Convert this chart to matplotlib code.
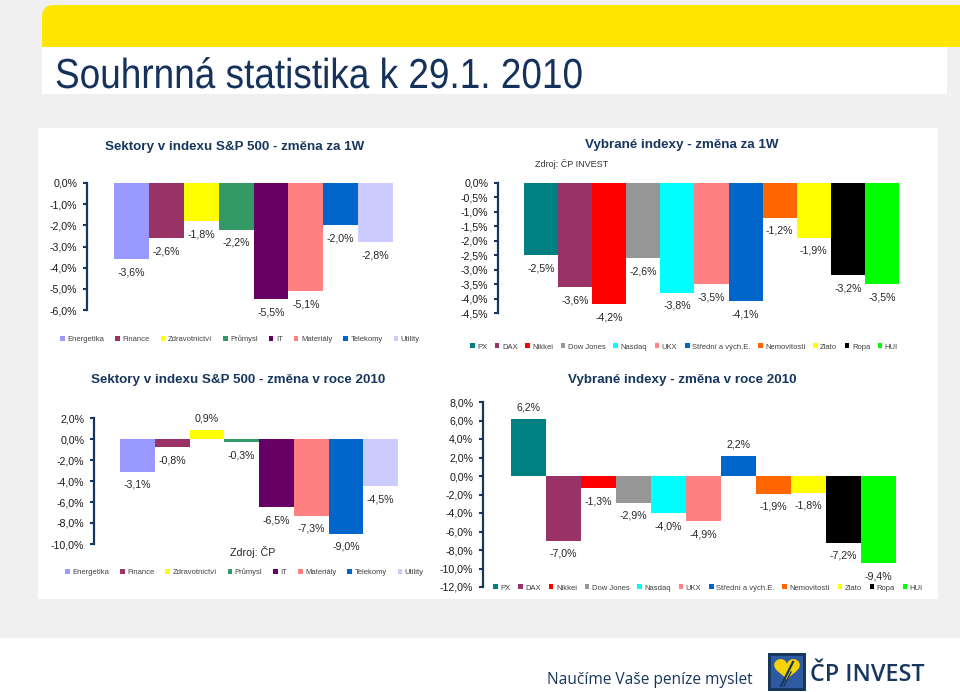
import numpy as np
import matplotlib.pyplot as plt
from matplotlib.patches import Rectangle, FancyBboxPatch, PathPatch, Polygon
from matplotlib.textpath import TextPath
from matplotlib.font_manager import FontProperties, findfont
from matplotlib.transforms import Affine2D
from matplotlib.ticker import FuncFormatter

plt.rcParams['font.family'] = ['Liberation Sans', 'DejaVu Sans']

# --- data ---
sektory = ['Energetika', 'Finance', 'Zdravotnictví', 'Průmysl', 'IT',
           'Materiály', 'Telekomy', 'Utility']
sektory_1w = [-3.6, -2.6, -1.8, -2.2, -5.5, -5.1, -2.0, -2.8]
sektory_2010 = [-3.1, -0.8, 0.9, -0.3, -6.5, -7.3, -9.0, -4.5]
sektory_barvy = ['#9999ff', '#993366', '#ffff00', '#339966', '#660066',
                 '#ff8080', '#0066cc', '#ccccff']

indexy = ['PX', 'DAX', 'Nikkei', 'Dow Jones', 'Nasdaq', 'UKX',
          'Střední a vých.E.', 'Nemovitosti', 'Zlato', 'Ropa', 'HUI']
indexy_1w = [-2.5, -3.6, -4.2, -2.6, -3.8, -3.5, -4.1, -1.2, -1.9, -3.2, -3.5]
indexy_2010 = [6.2, -7.0, -1.3, -2.9, -4.0, -4.9, 2.2, -1.9, -1.8, -7.2, -9.4]
indexy_barvy = ['#008080', '#993366', '#ff0000', '#969696', '#00ffff',
                '#ff8080', '#0066cc', '#ff6600', '#ffff00', '#000000', '#00ff00']

NAVY = '#17375e'
W, H = 960, 692

fig = plt.figure(figsize=(W / 100, H / 100), dpi=100)
fig.patch.set_facecolor('#f0f0f0')

# pozadi slajdu v pixelech
bg = fig.add_axes([0, 0, 1, 1])
bg.set_xlim(0, W)
bg.set_ylim(H, 0)
bg.axis('off')
bg.add_patch(FancyBboxPatch((42, 5), 940, 42, boxstyle='round,pad=0,rounding_size=12',
                            fc='#ffe600', ec='none'))
bg.add_patch(Rectangle((42, 30), 30, 17, fc='#ffe600', ec='none'))
bg.add_patch(Rectangle((42, 47), 905, 47, fc='white', ec='none'))
bg.add_patch(Rectangle((38, 128), 900, 471, fc='white', ec='none'))
bg.add_patch(Rectangle((0, 638), W, 54, fc='white', ec='none'))

# hlavni nadpis - zuzene pismo
try:
    findfont(FontProperties(family='Liberation Sans Narrow'), fallback_to_default=False)
    fp_title, sx = FontProperties(family='Liberation Sans Narrow'), 1.0
except Exception:
    fp_title, sx = FontProperties(family='Liberation Sans'), 0.88
tp = TextPath((0, 0), 'Souhrnná statistika k 29.1. 2010', size=42, prop=fp_title)
bg.add_patch(PathPatch(tp, transform=Affine2D().scale(sx, -1).translate(55, 88) + bg.transData,
                       fc='#14325c', ec='none'))

# paticka
bg.text(547, 680, 'Naučíme Vaše peníze myslet', fontsize=11.2, family='Open Sans',
        color=NAVY, va='center', ha='left')
bg.text(810, 675, 'ČP INVEST', fontsize=16.8, family='Open Sans', weight='semibold',
        color=NAVY, va='center', ha='left')
bg.add_patch(Rectangle((768, 653), 38, 38, fc=NAVY, ec='none'))
bg.add_patch(Rectangle((771, 656), 32, 32, fc='#2d5aa0', ec='none'))
t = np.linspace(0, 2 * np.pi, 80)
hx = 16 * np.sin(t) ** 3
hy = 13 * np.cos(t) - 5 * np.cos(2 * t) - 2 * np.cos(3 * t) - np.cos(4 * t)
bg.add_patch(Polygon(np.column_stack([787 + hx * 0.8, 668 - hy * 0.75]), fc='#f5d20a', ec='none'))
bg.plot([781, 793], [686, 662], color=NAVY, lw=1.6)
bg.plot([784, 791], [686, 672], color=NAVY, lw=1.0)


def pct(v, _=None):
    if abs(v) < 1e-9:
        v = 0.0
    return f'{v:.1f}'.replace('.', ',') + '%'


def graf(kat, hodnoty, barvy, spine_x, prvni_x, posl_x, y_top, y_bot, ymax, ymin, krok,
         nadpis, nadpis_xy, leg_x0, leg_x1, leg_y):
    n = len(kat)
    w = (posl_x - prvni_x) / n
    m = (prvni_x - spine_x) / w
    right = posl_x + (prvni_x - spine_x)
    ax = fig.add_axes([spine_x / W, 1 - y_bot / H, (right - spine_x) / W, (y_bot - y_top) / H])
    ax.patch.set_alpha(0)
    bars = ax.bar(range(n), hodnoty, width=1.0, color=barvy)
    ax.set_xlim(-0.5 - m, n - 0.5 + m)
    ax.set_ylim(ymin, ymax)
    ax.set_yticks(np.arange(ymax, ymin - krok / 2, -krok))
    ax.yaxis.set_major_formatter(FuncFormatter(pct))
    ax.set_xticks([])
    for s in ['top', 'right', 'bottom']:
        ax.spines[s].set_visible(False)
    ax.spines['left'].set_color(NAVY)
    ax.spines['left'].set_linewidth(1.6)
    ax.tick_params(axis='y', direction='out', length=3, width=1.5, color=NAVY, pad=4,
                   labelsize=7.7, labelcolor='#1a1a1a')
    for i, v in enumerate(hodnoty):
        ax.annotate(pct(v), xy=(i, v), xytext=(0, -9.4 if v < 0 else 8),
                    textcoords='offset points', ha='center', va='center',
                    fontsize=7.7, color='#262626', annotation_clip=False)
    bg.text(nadpis_xy[0], nadpis_xy[1], nadpis, ha='center', va='center',
            fontsize=9.6, weight='bold', color=NAVY)
    ax.legend(list(bars), kat, loc='center left', mode='expand', ncol=n,
              bbox_to_anchor=(leg_x0 / W, 1 - (leg_y + 5) / H, (leg_x1 - leg_x0) / W, 10 / H),
              bbox_transform=fig.transFigure, frameon=False, fontsize=5.5,
              labelcolor='#404040', handlelength=0.6, handleheight=0.6,
              handletextpad=0.35, borderaxespad=0, borderpad=0)
    return ax


graf(sektory, sektory_1w, sektory_barvy, 87, 114, 393, 183, 310, 0, -6, 1,
     'Sektory v indexu S&P 500 - změna za 1W', (235, 147), 60, 420, 339)
graf(indexy, indexy_1w, indexy_barvy, 498, 524, 899, 183, 313, 0, -4.5, 0.5,
     'Vybrané indexy - změna za 1W', (682, 145), 470, 898, 347)
graf(sektory, sektory_2010, sektory_barvy, 94, 120, 398, 418, 544, 2, -10, 2,
     'Sektory v indexu S&P 500 - změna v roce 2010', (238, 380), 65, 424, 572)
graf(indexy, indexy_2010, indexy_barvy, 483, 511, 896, 402, 587, 8, -12, 2,
     'Vybrané indexy - změna v roce 2010', (682, 380), 493, 923, 588)

bg.text(535, 164, 'Zdroj: ČP INVEST', fontsize=6.5, color='#333333', va='center', ha='left')
bg.text(253, 552, 'Zdroj: ČP', fontsize=7.7, color='#262626', va='center', ha='center')

fig.savefig('out.png', dpi=100, facecolor=fig.get_facecolor())
